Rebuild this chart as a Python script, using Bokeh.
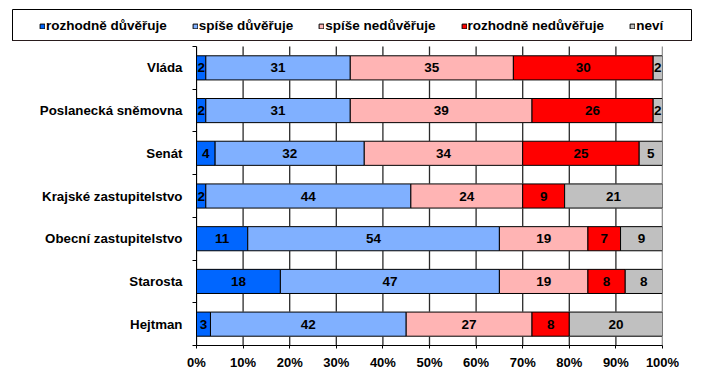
from bokeh.plotting import figure
from bokeh.models import ColumnDataSource, Range1d, FixedTicker, Legend, LegendItem
from bokeh.layouts import column, row
from bokeh.core.properties import value
from bokeh.embed import file_html
from bokeh.resources import INLINE

categories = ["Vláda", "Poslanecká sněmovna", "Senát", "Krajské zastupitelstvo",
              "Obecní zastupitelstvo", "Starosta", "Hejtman"]
series_names = ["rozhodně důvěřuje", "spíše důvěřuje", "spíše nedůvěřuje",
                "rozhodně nedůvěřuje", "neví"]
rozhodne_duveruje = [2, 2, 4, 2, 11, 18, 3]
spise_duveruje = [31, 31, 32, 44, 54, 47, 42]
spise_neduveruje = [35, 39, 34, 24, 19, 19, 27]
rozhodne_neduveruje = [30, 26, 25, 9, 7, 8, 8]
nevi = [2, 2, 5, 21, 9, 8, 20]
x_ticks = [0, 10, 20, 30, 40, 50, 60, 70, 80, 90, 100]
x_tick_labels = ["0%", "10%", "20%", "30%", "40%", "50%", "60%", "70%", "80%", "90%", "100%"]

colors = ["#0066FF", "#80B0FF", "#FFB4B4", "#FF0000", "#C0C0C0"]
series = [rozhodne_duveruje, spise_duveruje, spise_neduveruje, rozhodne_neduveruje, nevi]
keys = ["s0", "s1", "s2", "s3", "s4"]

n = len(categories)
ypos = [n - i - 0.5 for i in range(n)]
BAR_H = 0.565

data = {"y": ypos}
for k, s in zip(keys, series):
    data[k] = s
source = ColumnDataSource(data)

FONT = value("Liberation Sans")

# ---------- legend strip ----------
lg = figure(width=705, height=46, x_range=Range1d(0, 1), y_range=Range1d(0, 1),
            output_backend="svg", toolbar_location=None,
            x_axis_type=None, y_axis_type=None,
            min_border_left=12, min_border_right=14, min_border_top=9, min_border_bottom=6)
lg.outline_line_color = "black"
lg.outline_line_width = 1
lg.xgrid.grid_line_color = None
lg.ygrid.grid_line_color = None
# legend swatches: one off-frame sample of each series (only the legend shows them)
dummy = [lg.hbar(y=[-5], left=[0], right=[1], height=0.5, color=c, line_color="black",
                 line_width=1) for c in colors]
legend = Legend(items=[LegendItem(label=nm, renderers=[r]) for nm, r in zip(series_names, dummy)],
                orientation="horizontal", location=(27, 6.8), padding=0, margin=0,
                spacing=25, glyph_width=6, glyph_height=6, label_standoff=1,
                label_text_font="Liberation Sans", label_text_font_style="bold",
                label_text_font_size="13.5px", label_text_color="black",
                border_line_color=None, background_fill_alpha=0)
lg.add_layout(legend)

# ---------- main chart ----------
p = figure(width=705, height=330, x_range=Range1d(0, 100), y_range=Range1d(0, n),
           output_backend="svg", toolbar_location=None,
           min_border_left=196, min_border_right=43, min_border_top=0, min_border_bottom=31)
p.outline_line_color = None
p.xgrid.grid_line_color = None
p.ygrid.grid_line_color = None

renderers = p.hbar_stack(keys, y="y", height=BAR_H, color=colors, line_color="black",
                         line_width=1, source=source)

# vertical grid lines at the tick values, shown in the gaps between the bars
gx, gy = [], []
for b in range(n + 1):
    for t in x_ticks:
        gx.append(t)
        gy.append(b)
p.rect(x=gx, y=gy, width=1.3, height=1 - BAR_H - 0.01, width_units="screen",
       fill_color="#2a2a2a", line_color=None)

# value labels
tx, ty, tt = [], [], []
for j in range(n):
    left = 0
    for s in series:
        v = s[j]
        tx.append(left + v / 2)
        ty.append(ypos[j])
        tt.append(str(v))
        left += v
p.text(x=tx, y=ty, text=tt, text_align="center", text_baseline="middle",
       text_font=FONT, text_font_style="bold", text_font_size="13.5px", text_color="black")

# x axis
p.xaxis.ticker = FixedTicker(ticks=x_ticks)
p.xaxis.major_label_overrides = {t: l for t, l in zip(x_ticks, x_tick_labels)}
p.xaxis.major_tick_out = 3
p.xaxis.major_tick_in = 0
p.xaxis.minor_tick_out = 0
p.xaxis.minor_tick_in = 0
p.xaxis.major_label_standoff = 6
p.xaxis.major_label_text_font = "Liberation Sans"
p.xaxis.major_label_text_font_style = "bold"
p.xaxis.major_label_text_font_size = "13px"
p.xaxis.major_label_text_color = "black"
p.xaxis.axis_line_color = "black"
p.xaxis.major_tick_line_color = "black"

# y axis
p.yaxis.ticker = FixedTicker(ticks=ypos, minor_ticks=list(range(n + 1)))
p.yaxis.major_label_overrides = {y: c for y, c in zip(ypos, categories)}
p.yaxis.major_tick_out = 0
p.yaxis.major_tick_in = 0
p.yaxis.minor_tick_out = 4
p.yaxis.minor_tick_in = 0
p.yaxis.minor_tick_line_color = "black"
p.yaxis.major_label_standoff = 10
p.yaxis.major_label_text_font = "Liberation Sans"
p.yaxis.major_label_text_font_style = "bold"
p.yaxis.major_label_text_font_size = "13.3px"
p.yaxis.major_label_text_color = "black"
p.yaxis.axis_line_color = "black"

layout = column(row(lg), row(p), spacing=0)
open("out.html", "w").write(file_html(layout, INLINE))
